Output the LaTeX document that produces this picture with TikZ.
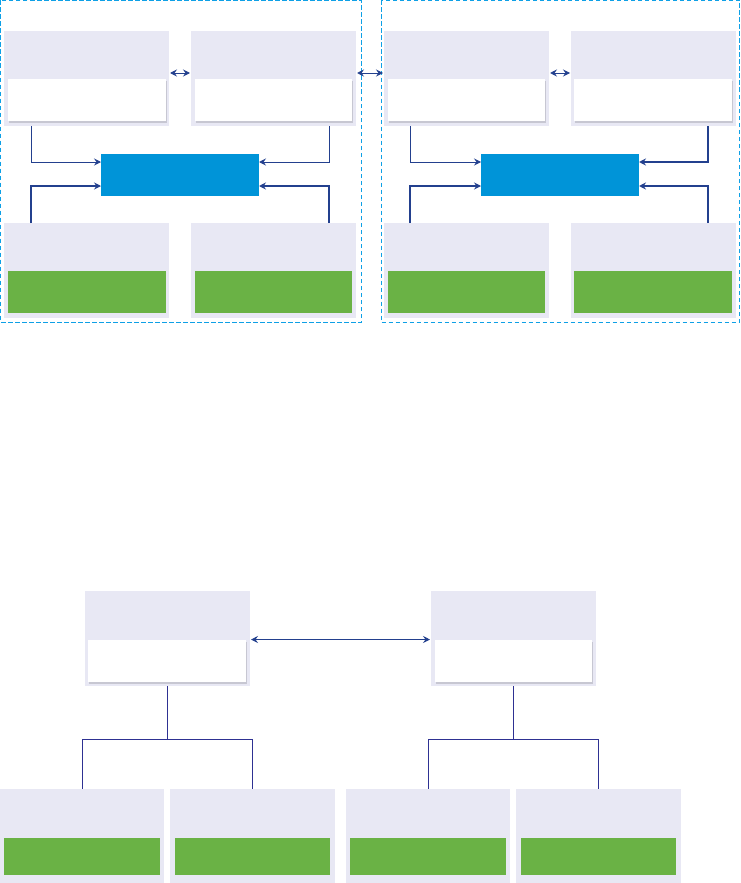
\documentclass[tikz,border=0pt]{standalone}
\usetikzlibrary{arrows.meta,shadows}
\definecolor{lav}{HTML}{E8E8F4}
\definecolor{grn}{HTML}{6AB245}
\definecolor{cblue}{HTML}{0094D8}
\definecolor{lnblue}{HTML}{23408E}
\definecolor{trblue}{HTML}{2E3192}
\definecolor{dashblue}{HTML}{0EA0E6}
\tikzset{
  >={Stealth[length=7pt,width=7pt,inset=2.5pt]},
  box/.style={rectangle,inner sep=0pt,outer sep=0pt,anchor=north west},
  outerbox/.style={box,fill=lav,minimum width=165pt,minimum height=95pt},
  whitebox/.style={box,fill=white,minimum width=158pt,minimum height=42pt,
     drop shadow={shadow xshift=0.6pt,shadow yshift=-2.2pt,fill=black!55!lav,opacity=0.25}},
  greenbox/.style={box,fill=grn,minimum width=158pt,minimum height=42pt},
  hubbox/.style={box,fill=cblue,minimum width=158pt,minimum height=42pt},
  conn/.style={draw=lnblue,line width=1pt},
  connb/.style={draw=lnblue,line width=1.5pt},
  tree/.style={draw=trblue,line width=1pt},
  frame/.style={draw=dashblue,line width=1pt,dash pattern=on 4.5pt off 2.5pt},
}
\begin{document}
\begin{tikzpicture}[x=1pt,y=-1pt]
\useasboundingbox (0,0) rectangle (740,883);
% frames
\draw[frame] (0.5,0.5) rectangle (361,322);
\draw[frame] (381,0.5) rectangle (739.5,322);
% ---- left cluster
\node[outerbox] (A) at (4,31) {};
\node[whitebox] (Aw) at (8,79) {};
\node[outerbox] (B) at (191,31) {};
\node[whitebox, minimum width=157pt] (Bw) at (195,79) {};
\node[hubbox] (K1) at (101,154) {};
\node[outerbox] (D) at (4,223) {};
\node[greenbox] (Dg) at (8,271) {};
\node[outerbox] (E) at (191,223) {};
\node[greenbox, minimum width=157pt] (Eg) at (195,271) {};
% ---- right cluster
\node[outerbox] (C) at (384,31) {};
\node[whitebox, minimum width=157pt] (Cw) at (388,79) {};
\node[outerbox] (F) at (571,31) {};
\node[whitebox] (Fw) at (574,79) {};
\node[hubbox] (K2) at (481,154) {};
\node[outerbox] (G) at (384,223) {};
\node[greenbox, minimum width=157pt] (Gg) at (388,271) {};
\node[outerbox] (H) at (571,223) {};
\node[greenbox] (Hg) at (574,271) {};
% ---- top connectors
\draw[conn,<->] ([yshift=5.5pt,xshift=1pt]A.east) -- ([yshift=5.5pt,xshift=-1pt]B.west);
\draw[conn,<->] ([yshift=5.5pt,xshift=1pt]B.east) -- ([yshift=5.5pt,xshift=-1pt]C.west);
\draw[conn,<->] ([yshift=5.5pt,xshift=1pt]C.east) -- ([yshift=5.5pt,xshift=-1pt]F.west);
\draw[conn,->] ([xshift=27pt]A.south west) |- ([yshift=13pt]K1.west);
\draw[connb,->] ([xshift=27pt]D.north west) |- ([yshift=-11pt]K1.west);
\draw[conn,->] ([xshift=-27pt]B.south east) |- ([yshift=13pt]K1.east);
\draw[connb,->] ([xshift=-27pt]E.north east) |- ([yshift=-11pt]K1.east);
\draw[conn,->] ([xshift=26pt]C.south west) |- ([yshift=13pt]K2.west);
\draw[connb,->] ([xshift=26pt]G.north west) |- ([yshift=-11pt]K2.west);
\draw[connb,->] ([xshift=-28pt]F.south east) |- ([yshift=13pt]K2.east);
\draw[connb,->] ([xshift=-28pt]H.north east) |- ([yshift=-11pt]K2.east);
% ---- bottom hierarchy
\node[outerbox] (P) at (85,591) {};
\node[whitebox] (Pw) at (88,640) {};
\node[outerbox] (Q) at (431,591) {};
\node[whitebox, minimum width=157pt] (Qw) at (435,640) {};
\node[outerbox, minimum width=164pt] (R) at (0,789) {};
\node[greenbox, minimum width=156pt, minimum height=37pt] (Rg) at (4,838) {};
\node[outerbox] (S) at (170,789) {};
\node[greenbox, minimum width=155pt, minimum height=37pt] (Sg) at (175,838) {};
\node[outerbox, minimum width=164pt] (T) at (346,789) {};
\node[greenbox, minimum width=156pt, minimum height=37pt] (Tg) at (350,838) {};
\node[outerbox] (U) at (516,789) {};
\node[greenbox, minimum width=155pt, minimum height=37pt] (Ug) at (521,838) {};
\draw[conn,<->] ([yshift=-1pt,xshift=1pt]P.east) -- ([yshift=-1pt,xshift=-1pt]Q.west);
\coordinate (pj) at (167.5,739);
\coordinate (qj) at (513.5,739);
\draw[tree] (P.south) -- (pj);
\draw[tree] (pj) -| (R.north);
\draw[tree] (pj) -| (S.north);
\draw[tree] (Q.south) -- (qj);
\draw[tree] (qj) -| (T.north);
\draw[tree] (qj) -| (U.north);
\end{tikzpicture}
\end{document}
